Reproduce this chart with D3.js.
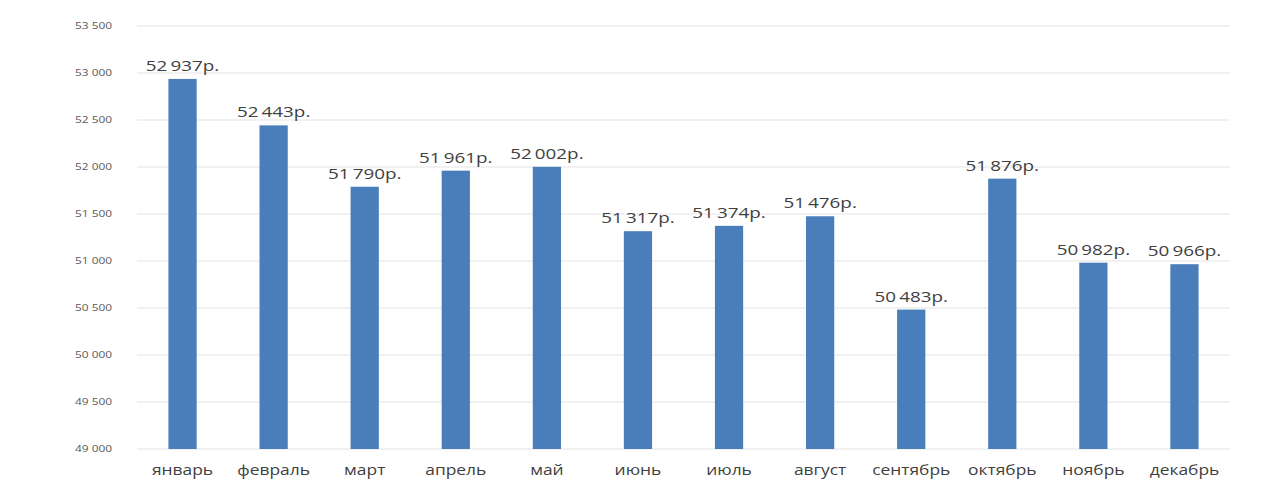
<!DOCTYPE html>
<html><head><meta charset="utf-8">
<script src="https://cdn.jsdelivr.net/npm/d3@7"></script>
<style>body{margin:0;background:#fff;} svg{display:block;}</style>
</head><body>
<svg id="c" width="1283" height="482"></svg>
<script>
const categories = ["январь","февраль","март","апрель","май","июнь","июль","август","сентябрь","октябрь","ноябрь","декабрь"];
const values = [52937,52443,51790,51961,52002,51317,51374,51476,50483,51876,50982,50966];
const yTicks = [49000,49500,50000,50500,51000,51500,52000,52500,53000,53500];

(function(){
const svg = d3.select("#c");
const mLeft = 137, mRight = 1230, mTop = 26, mBottom = 449;
const x = d3.scaleBand().domain(categories).range([mLeft, mRight]).paddingInner(0.69).paddingOuter(0.345);
const y = d3.scaleLinear().domain([49000, 53500]).range([mBottom, mTop]);
const fmt = v => d3.format(",")(v).replace(/,/g, "\u2009");

svg.append("g").selectAll("line").data(yTicks).join("line")
  .attr("x1", mLeft).attr("x2", mRight)
  .attr("y1", d => y(d)).attr("y2", d => y(d))
  .attr("stroke", "#e3e3e3").attr("stroke-width", 1);

svg.append("g").selectAll("text").data(yTicks).join("text")
  .attr("transform", d => `translate(112,${y(d)}) scale(1.25,1)`)
  .attr("dy", "0.35em")
  .attr("text-anchor", "end").attr("font-family", "Open Sans, sans-serif")
  .attr("font-size", 9.5).attr("fill", "#595959")
  .text(d => fmt(d).replace("\u2009", " "));

svg.append("g").selectAll("rect").data(values).join("rect")
  .attr("x", (d, i) => x(categories[i])).attr("width", x.bandwidth())
  .attr("y", d => y(d)).attr("height", d => mBottom - y(d))
  .attr("fill", "#4a7ebb");

svg.append("g").selectAll("text").data(values).join("text")
  .attr("transform", (d, i) => `translate(${x(categories[i]) + x.bandwidth() / 2},${y(d) - 8}) scale(1.3,1)`)
  .attr("text-anchor", "middle").attr("font-family", "Open Sans, sans-serif")
  .attr("font-size", 14.5).attr("fill", "#404040")
  .text(d => fmt(d) + "р.");

svg.append("g").selectAll("text").data(categories).join("text")
  .attr("transform", d => `translate(${x(d) + x.bandwidth() / 2},475) scale(1.2,1)`)
  .attr("text-anchor", "middle").attr("font-family", "Open Sans, sans-serif")
  .attr("font-size", 14.5).attr("fill", "#404040")
  .text(d => d);
})();
</script>
</body></html>
